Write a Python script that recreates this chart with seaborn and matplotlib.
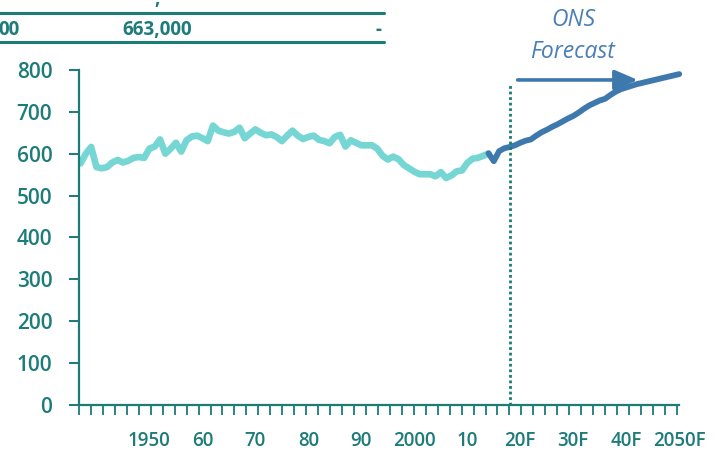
import numpy as np
import pandas as pd
import matplotlib
matplotlib.use("Agg")
import matplotlib.pyplot as plt
from matplotlib.lines import Line2D
from matplotlib.ticker import FixedLocator
import seaborn as sns

# ---------------- data (thousands of deaths) ----------------
hist_years = list(range(1937, 2015))
hist_vals = [577, 600, 616, 568, 565, 568, 579, 585, 579, 583,
             590, 592, 590, 612, 617, 634, 600, 612, 626, 605,
             632, 641, 643, 637, 630, 667, 655, 651, 648, 652,
             662, 637, 648, 658, 650, 644, 646, 640, 630, 643,
             655, 643, 635, 640, 643, 633, 630, 625, 640, 645,
             617, 632, 626, 620, 620, 620, 612, 595, 586, 593,
             587, 573, 565, 557, 551, 551, 551, 546, 556, 542,
             548, 558, 560, 578, 588, 590, 595, 600]

fc_years = list(range(2014, 2051))
fc_vals = [601, 582, 606, 613, 616, 620, 626, 631, 634, 643,
           651, 657, 664, 670, 677, 684, 690, 698, 707, 715,
           721, 727, 731, 740, 748, 754, 758, 762, 766, 769,
           772, 775, 778, 781, 784, 787, 790]

tick_years = [1950, 1960, 1970, 1980, 1990, 2000, 2010, 2020, 2030, 2040, 2050]
tick_labels = ["1950", "60", "70", "80", "90", "2000", "10", "20F", "30F", "40F", "2050F"]
y_ticks = [0, 100, 200, 300, 400, 500, 600, 700, 800]

forecast_start = 2018
table_row = ["00", "663,000", "-"]

# ---------------- style ----------------
sns.set_theme(style="white")
plt.rcParams["font.family"] = ["Open Sans", "DejaVu Sans"]

TEAL = "#1a7b77"
TEXT = "#1c7c79"
LIGHT = "#76d6d4"
DARK = "#3e79ae"
NOTE = "#4a7eb6"

fig = plt.figure(figsize=(7.18, 4.51), dpi=100)
ax = fig.add_axes([0.110, 0.102, 0.836, 0.743])

hist = pd.DataFrame({"year": hist_years, "deaths": hist_vals})
fc = pd.DataFrame({"year": fc_years, "deaths": fc_vals})

sns.lineplot(data=hist, x="year", y="deaths", ax=ax, color=LIGHT,
             linewidth=4.8, solid_joinstyle="round", solid_capstyle="round")
sns.lineplot(data=fc, x="year", y="deaths", ax=ax, color=DARK,
             linewidth=4.2, solid_joinstyle="round", solid_capstyle="round",
             clip_on=False)

ax.vlines(forecast_start, 0, 768, colors=TEAL, linewidth=2.0,
          linestyles=(0, (1, 1)))

ax.set_xlim(1936.7, 2050.0)
ax.set_ylim(0, 800)
ax.set_xlabel("")
ax.set_ylabel("")

for s in ["top", "right"]:
    ax.spines[s].set_visible(False)
for s in ["left", "bottom"]:
    ax.spines[s].set_color(TEAL)
    ax.spines[s].set_linewidth(1.6)

ax.set_yticks(y_ticks)
ax.set_yticklabels([str(v) for v in y_ticks], fontweight="semibold")
ax.tick_params(axis="y", direction="out", length=7.2, width=1.4,
               color=TEAL, labelcolor=TEXT, labelsize=15, pad=12, left=True)

ax.set_xticks(tick_years)
ax.set_xticklabels(tick_labels, fontweight="semibold")
ax.tick_params(axis="x", which="major", length=0, labelcolor=TEXT,
               labelsize=13.5, pad=19)
ax.xaxis.set_minor_locator(FixedLocator(1936.7 + np.arange(51) * 2.257))
ax.tick_params(axis="x", which="minor", direction="out", length=7.2,
               width=1.3, color=TEAL, bottom=True)

# forecast annotation
ax.annotate("", xy=(2042.2, 776), xytext=(2019.5, 776),
            arrowprops=dict(arrowstyle="-|>,head_length=0.7,head_width=0.3",
                            mutation_scale=20, lw=2.6, color=DARK,
                            shrinkA=0, shrinkB=0),
            annotation_clip=False)
fig.text(0.799, 0.956, "ONS", ha="center", va="center", color=NOTE,
         fontsize=16.5, style="italic")
fig.text(0.797, 0.885, "Forecast", ha="center", va="center", color=NOTE,
         fontsize=16.5, style="italic")

# cropped table row at the top
fig.add_artist(Line2D([0, 384 / 718], [1 - 13 / 451, 1 - 13 / 451],
                      color=TEAL, linewidth=2.2, transform=fig.transFigure))
fig.add_artist(Line2D([0, 384 / 718], [1 - 42 / 451, 1 - 42 / 451],
                      color=TEAL, linewidth=2.2, transform=fig.transFigure))
fig.text(-0.002, 0.933, table_row[0], ha="left", va="center", color=TEXT,
         fontsize=13.5, fontweight="bold")
fig.text(0.219, 0.933, table_row[1], ha="center", va="center", color=TEXT,
         fontsize=13.5, fontweight="bold")
fig.text(0.527, 0.933, table_row[2], ha="center", va="center", color=TEXT,
         fontsize=13.5, fontweight="bold")
fig.text(157 / 718, 1.0 - 4 / 451, ",", ha="center", va="baseline",
         color=TEXT, fontsize=13.5, fontweight="bold")

fig.savefig("out.png", dpi=100)
